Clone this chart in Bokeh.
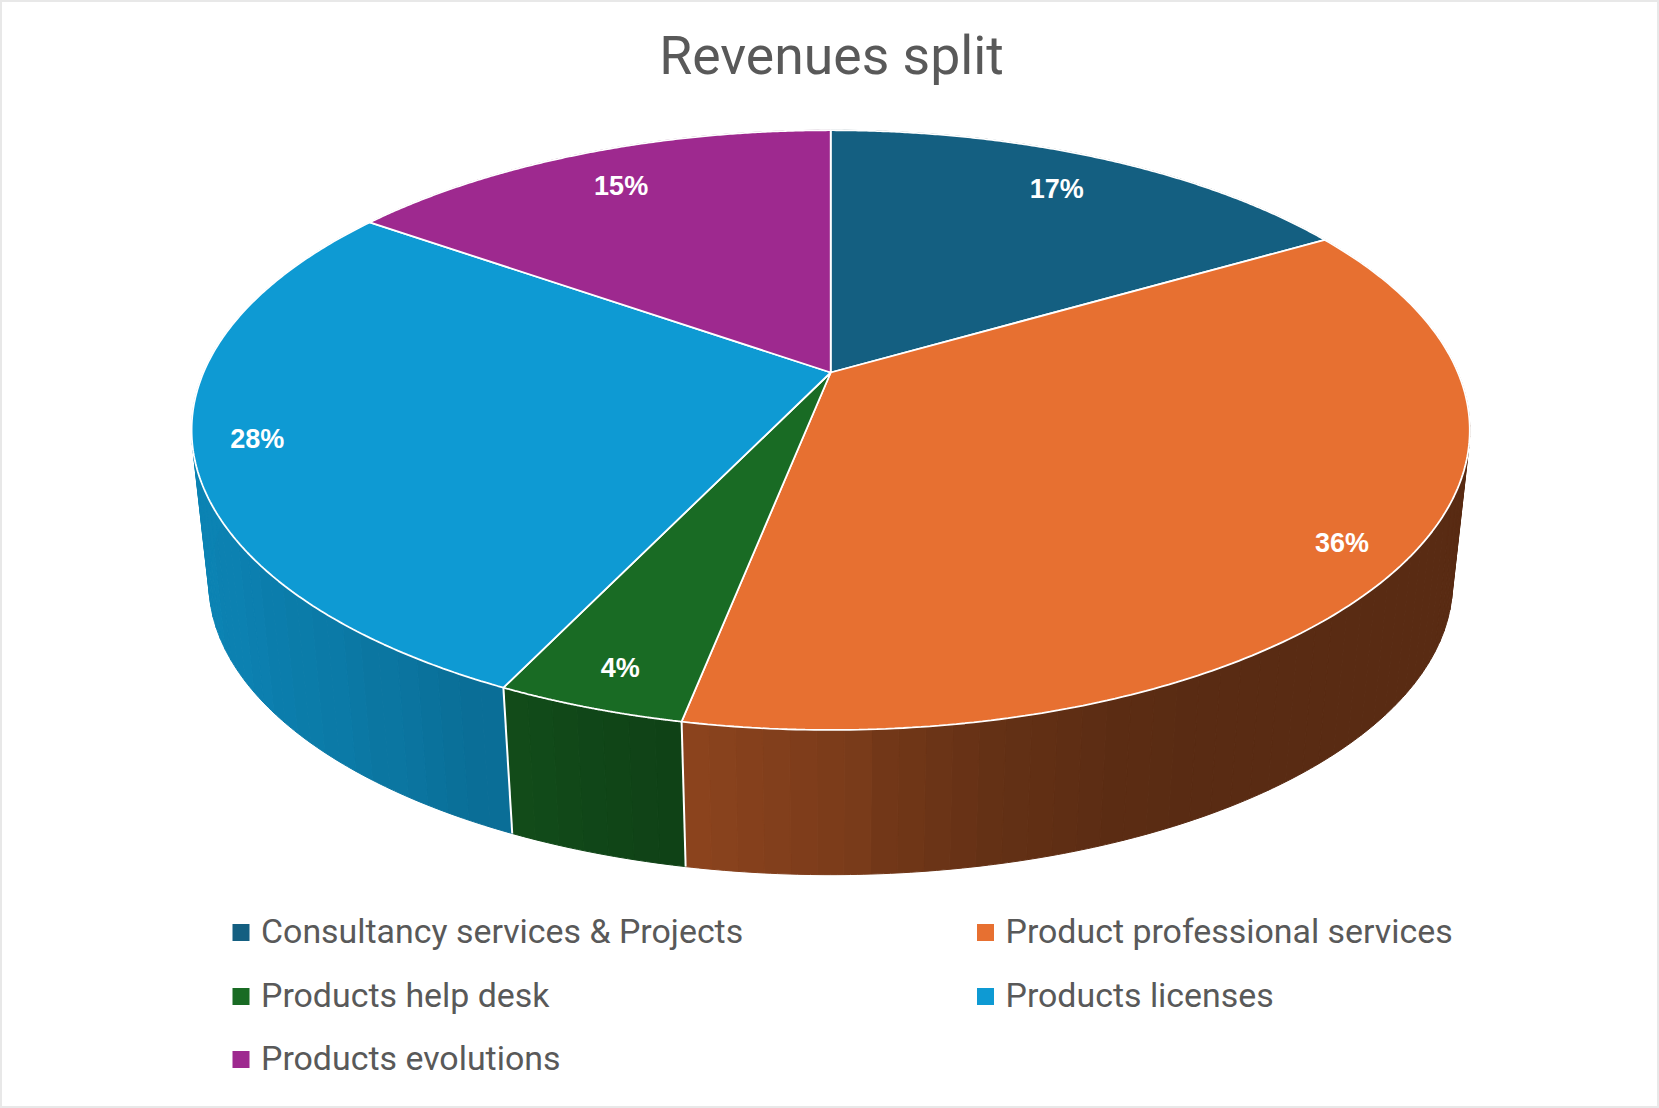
import numpy as np
from bokeh.plotting import figure
from bokeh.models import Range1d
from bokeh.core.properties import value
from bokeh.embed import file_html
from bokeh.resources import INLINE

title_text = "Revenues split"
categories = ["Consultancy services & Projects", "Product professional services",
              "Products help desk", "Products licenses", "Products evolutions"]
shares = [16.6, 36.49, 4.01, 27.7, 15.2]
colors = ["#145F81", "#E77031", "#196B24", "#0E9AD3", "#9E298F"]

# projection of the tilted disc, in page pixels
CX, CY = 830.2, 372.0
A, B, K = 288.8, 627.2, 0.192
S, VY = 0.973, 6090.0
label_radius = [0.835, 0.905, 0.90, 0.905, 0.83]
label_dx = [-3, -3, 2, 1, 0]
label_dy = [0, 2, 0, -2, 0]
shade_x = [200, 510, 690, 850, 1010, 1170, 1470]
shade_f = [0.85, 0.70, 0.60, 0.52, 0.43, 0.385, 0.385]
BAND = 26.0


def top(theta, r=1.0):
    u = -np.cos(theta) * r
    w = 1 - K * u
    return CX + B * r * np.sin(theta) / w, CY + A * u / w


def bottom(theta):
    x, y = top(theta)
    return CX + S * (x - CX), VY + S * (y - VY)


def shade(hex_color, factor):
    rgb = [int(hex_color[i:i + 2], 16) for i in (1, 3, 5)]
    return "#%02x%02x%02x" % tuple(int(round(c * factor)) for c in rgb)


p = figure(width=1659, height=1108, output_backend="svg", toolbar_location=None,
           x_range=Range1d(0, 1659), y_range=Range1d(1108, 0), min_border=0,
           x_axis_type=None, y_axis_type=None, outline_line_color="#e8e8e8",
           outline_line_width=3,
           background_fill_color="white", border_fill_color="white")
p.grid.visible = False

edges = np.cumsum([0.0] + shares) / sum(shares) * 2 * np.pi

# side wall: short pieces; pieces in one vertical band share one tone
sx, sy, sc = [], [], []
for i, col in enumerate(colors):
    n = max(2, int(np.degrees(edges[i + 1] - edges[i]) / 2))
    th = np.linspace(edges[i], edges[i + 1], n + 1)
    for a, b in zip(th[:-1], th[1:]):
        seg = np.linspace(a, b, 5)
        tx, ty = top(seg)
        bx, by = bottom(seg)
        tone = (np.floor(tx.mean() / BAND) + 0.5) * BAND
        sx.append(np.r_[tx, bx[::-1]])
        sy.append(np.r_[ty, by[::-1]])
        sc.append(shade(col, float(np.interp(tone, shade_x, shade_f))))
p.patches(sx, sy, fill_color=sc, line_color=sc, line_width=1)

# seams on the visible wall
for e in edges[1:-1]:
    if -np.cos(e) > 0.2:
        x0, y0 = top(e)
        x1, y1 = bottom(e)
        p.line([x0, x1], [y0, y1], line_color="white", line_width=2)

# top face
for i, col in enumerate(colors):
    th = np.linspace(edges[i], edges[i + 1], 200)
    x, y = top(th)
    p.patch(np.r_[CX, x], np.r_[CY, y], fill_color=col, line_color="white", line_width=1.8)

# percentage labels
mids = (edges[:-1] + edges[1:]) / 2
lx, ly = top(mids, np.array(label_radius))
p.text(lx + np.array(label_dx), ly + np.array(label_dy),
       text=[f"{round(v / sum(shares) * 100)}%" for v in shares],
       text_font=value("Liberation Sans"), text_font_style="bold", text_font_size="27px",
       text_color="white", text_align="center", text_baseline="middle")

# title
p.text([831], [55], text=[title_text], text_font=value("Roboto"), text_font_size="53.5px",
       text_color="#595959", text_align="center", text_baseline="middle")

# legend
col_x = [240.5, 985]
row_y = [932, 996, 1059]
for i, (name, col) in enumerate(zip(categories, colors)):
    mx, my = col_x[i % 2], row_y[i // 2]
    p.rect([mx], [my], width=17, height=17, fill_color=col, line_color=None)
    p.text([mx + 20], [my - 1], text=[name], text_font=value("Roboto"), text_font_size="33.9px",
           text_color="#595959", text_align="left", text_baseline="middle")

open("out.html", "w").write(file_html(p, INLINE))
